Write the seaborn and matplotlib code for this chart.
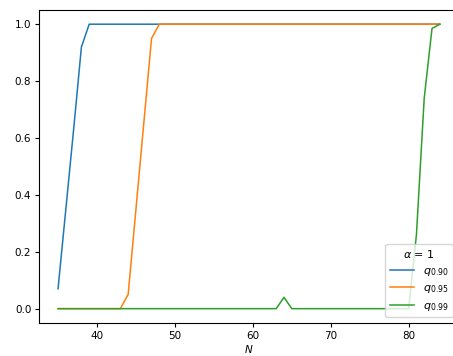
import numpy as np
import pandas as pd
import seaborn as sns
import matplotlib
matplotlib.use("Agg")
import matplotlib.pyplot as plt

# Sample sizes
N = list(range(35, 85))

# Coverage curves for each quantile level
q090 = [0.07, 0.35, 0.63, 0.92] + [1.0] * 46
q095 = [0.0] * 9 + [0.05, 0.35, 0.65, 0.95] + [1.0] * 37
q099 = ([0.0] * 29 + [0.04] + [0.0] * 16 + [0.26, 0.74, 0.985, 1.0])

labels = [r"$q_{0.90}$", r"$q_{0.95}$", r"$q_{0.99}$"]

df = pd.concat([
    pd.DataFrame({"N": N, "value": vals, "quantile": lab})
    for vals, lab in zip([q090, q095, q099], labels)
])

plt.rcParams["font.size"] = 7.5

fig = plt.figure(figsize=(4.53, 3.56), dpi=100)
ax = fig.add_axes([0.086, 0.093, 0.927, 0.879])

sns.lineplot(data=df, x="N", y="value", hue="quantile",
             palette=["#1f77b4", "#ff7f0e", "#2ca02c"],
             linewidth=1.1, ax=ax)

ax.set_xlabel(r"$N$", fontsize=7.5, labelpad=2)
ax.set_ylabel("")
ax.set_xticks([40, 50, 60, 70, 80])
ax.set_yticks([0.0, 0.2, 0.4, 0.6, 0.8, 1.0])
ax.tick_params(labelsize=7.5, length=3, pad=2.5)

leg = ax.legend(title=r"$\alpha$ = 1", loc="lower right", fontsize=8,
                title_fontsize=8, handlelength=2.2)

fig.savefig("out.png", dpi=100)
